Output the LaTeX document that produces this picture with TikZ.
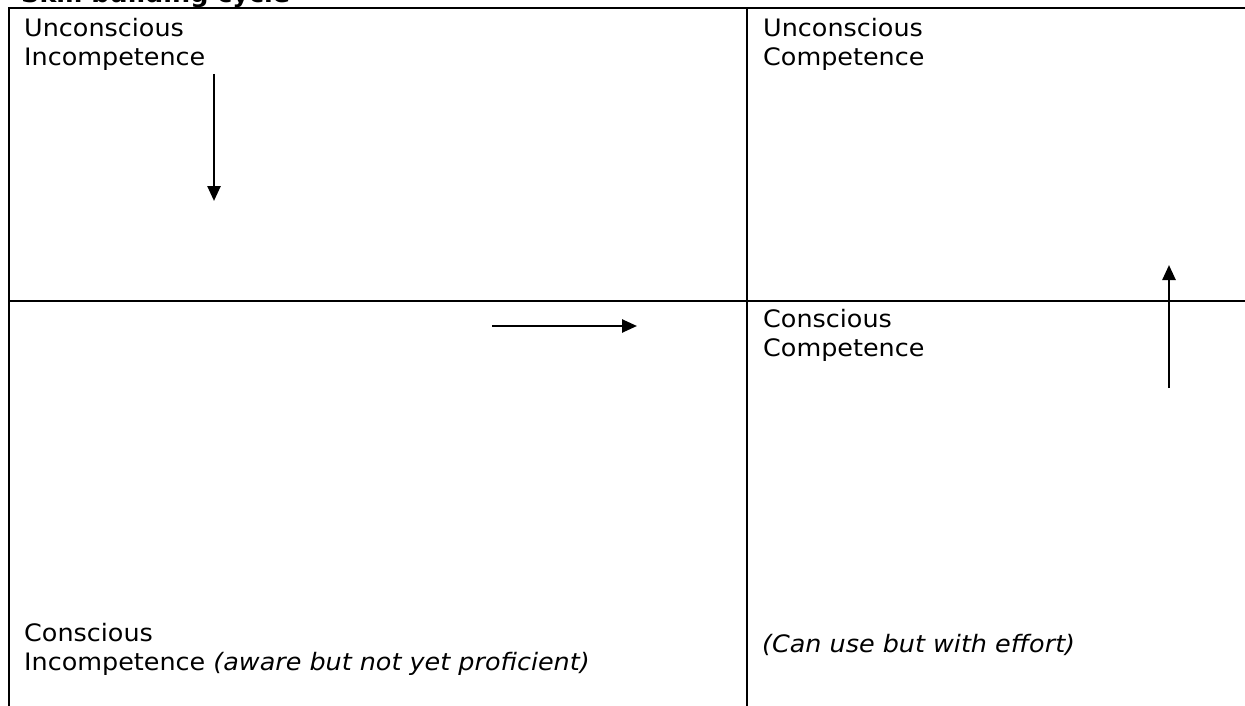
\documentclass[tikz,border=0pt]{standalone}
\usepackage{fontspec}
\setmainfont{DejaVu Sans}[FakeStretch=1.06]
\usetikzlibrary{arrows.meta}
\tikzset{
  rule/.style={line width=2.5pt, line cap=rect},
  lbl/.style={anchor=base west, inner sep=0pt, font=\fontsize{24}{29}\selectfont},
  ttl/.style={anchor=base west, inner sep=0pt, font=\fontsize{24}{29}\selectfont\bfseries},
  flow/.style={line width=2.5pt, -{Triangle[length=15pt,width=13pt]}}
}
\begin{document}
\begin{tikzpicture}[x=1pt,y=-1pt]
\useasboundingbox (0,0) rectangle (1245,706);
\clip (0,0) rectangle (1245,706);
\fill[white] (0,0) rectangle (1245,706);
% title (cut off at top)
\node[ttl] (title) at (21,2.5) {Skill building cycle};
% table rules
\coordinate (tl) at (9,8);
\coordinate (tr) at (1250,8);
\coordinate (bl) at (9,710);
\coordinate (tm) at (747,8);
\coordinate (bm) at (747,710);
\coordinate (ml) at (9,301);
\coordinate (mr) at (1250,301);
\draw[rule] (tr) -- (tl) -- (bl);
\draw[rule] (tm) -- (bm);
\draw[rule] (ml) -- (mr);
% cell texts
\node[lbl] (ui1) at (24,37) {Unconscious};
\node[lbl] (ui2) at (24,66) {Incompetence};
\node[lbl] (uc1) at (763,37) {Unconscious};
\node[lbl] (uc2) at (763,66) {Competence};
\node[lbl] (cc1) at (763,327) {Conscious};
\node[lbl] (cc2) at (763,356) {Competence};
\node[lbl] (ci1) at (24,641) {Conscious};
\node[lbl] (ci2) at (24,670) {Incompetence \textit{(aware but not yet proficient)}};
\node[lbl] (ccn) at (762,652) {\textit{(Can use but with effort)}};
% arrows
\coordinate (a1s) at (214,74);
\coordinate (a1e) at (214,201);
\coordinate (a2s) at (492,326);
\coordinate (a2e) at (637,326);
\coordinate (a3s) at (1169,388);
\coordinate (a3e) at (1169,265);
\draw[flow] (a1s) -- (a1e);
\draw[flow] (a2s) -- (a2e);
\draw[flow] (a3s) -- (a3e);
\end{tikzpicture}
\end{document}
